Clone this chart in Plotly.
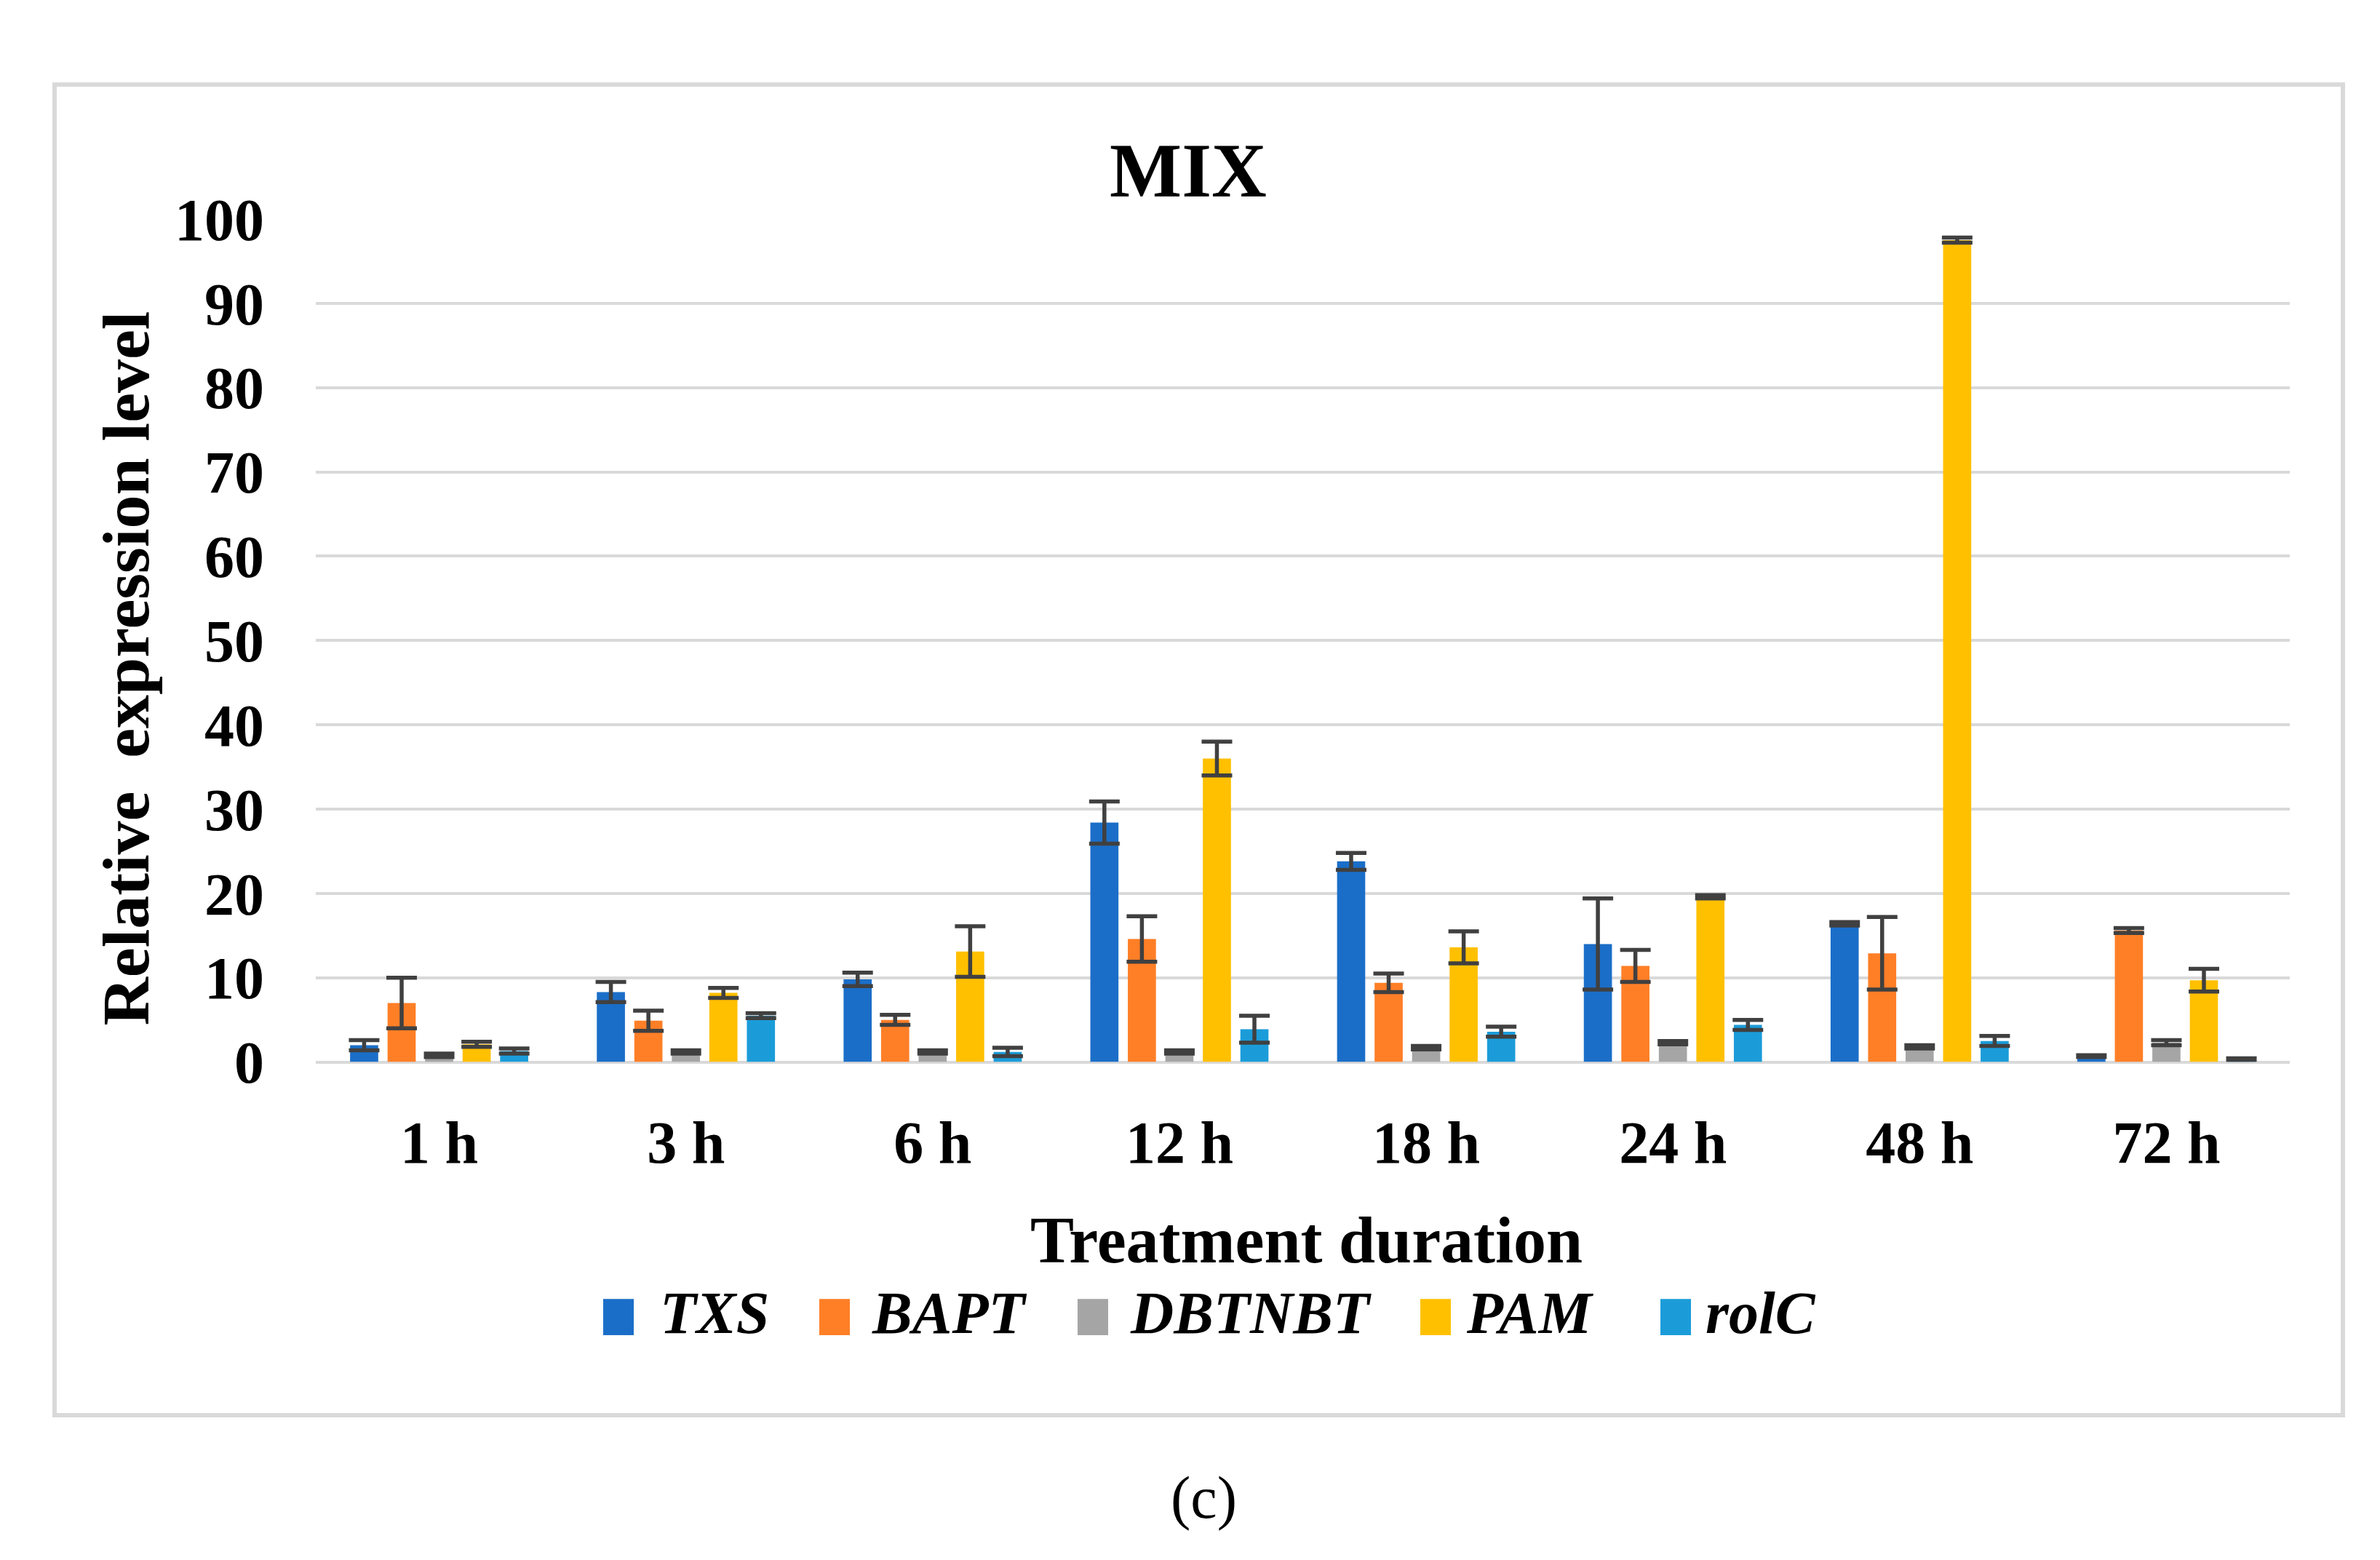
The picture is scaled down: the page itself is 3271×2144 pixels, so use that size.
import plotly.graph_objects as go

W, H = 3271, 2144

categories = ["1 h", "3 h", "6 h", "12 h", "18 h", "24 h", "48 h", "72 h"]
series_names = ["TXS", "BAPT", "DBTNBT", "PAM", "rolC"]
series_colors = ["#1B6EC8", "#FF7F27", "#A5A5A5", "#FFC000", "#1B9CD9"]

txs = [2.0, 8.3, 9.8, 28.4, 23.8, 14.0, 16.4, 0.7]
txs_err = [0.6, 1.2, 0.8, 2.5, 1.0, 5.4, 0.2, 0.1]
bapt = [7.0, 4.9, 5.0, 14.6, 9.4, 11.4, 12.9, 15.6]
bapt_err = [3.0, 1.2, 0.6, 2.7, 1.1, 1.9, 4.3, 0.3]
dbtnbt = [0.8, 1.2, 1.2, 1.2, 1.7, 2.3, 1.8, 2.3]
dbtnbt_err = [0.2, 0.2, 0.2, 0.2, 0.2, 0.2, 0.2, 0.3]
pam = [2.1, 8.2, 13.1, 36.0, 13.6, 19.6, 97.5, 9.7]
pam_err = [0.3, 0.6, 3.0, 2.0, 1.9, 0.2, 0.3, 1.35]
rolc = [1.3, 5.5, 1.2, 3.9, 3.6, 4.4, 2.5, 0.35]
rolc_err = [0.3, 0.3, 0.5, 1.6, 0.6, 0.6, 0.6, 0.1]

values = [txs, bapt, dbtnbt, pam, rolc]
errors = [txs_err, bapt_err, dbtnbt_err, pam_err, rolc_err]

y_ticks = [0, 10, 20, 30, 40, 50, 60, 70, 80, 90, 100]

FONT = "Liberation Serif"

def px(x):
    return x / W

def py(y):
    return (H - y) / H

fig = go.Figure()
for name, color, vals, errs in zip(series_names, series_colors, values, errors):
    fig.add_trace(go.Bar(
        name=name, x=categories, y=vals,
        marker=dict(color=color, line=dict(width=0)),
        error_y=dict(type="data", array=errs, visible=True,
                     color="#404040", thickness=5.5, width=21),
        showlegend=False,
    ))

shapes = [
    dict(type="rect", xref="paper", yref="paper",
         x0=px(67), x1=px(3212), y0=py(1977), y1=py(67),
         line=dict(color="#D9D9D9", width=6), fillcolor="rgba(0,0,0,0)", layer="below"),
]
annotations = []

# manual legend (boxes + italic labels)
box_x = [821, 1118, 1473, 1944, 2274]
text_x = [897, 1188, 1543, 2005, 2334]
for name, color, bx, tx in zip(series_names, series_colors, box_x, text_x):
    shapes.append(dict(type="rect", xref="paper", yref="paper",
                       x0=px(bx), x1=px(bx + 42), y0=py(1862), y1=py(1810),
                       line=dict(width=0), fillcolor=color))
    annotations.append(dict(text="<b><i>" + name + "</i></b>", xref="paper", yref="paper",
                            x=px(tx), y=py(1830), xanchor="left", yanchor="middle",
                            showarrow=False, font=dict(family=FONT, size=82, color="black")))

annotations += [
    dict(text="<b>Relative  expression level</b>", xref="paper", yref="paper",
         x=px(165), y=py(905), xanchor="center", yanchor="middle", textangle=-90,
         showarrow=False, font=dict(family=FONT, size=92, color="black")),
    dict(text="<b>Treatment duration</b>", xref="paper", yref="paper",
         x=px(1787), y=py(1726), xanchor="center", yanchor="middle",
         showarrow=False, font=dict(family=FONT, size=90, color="black")),
    dict(text="(c)", xref="paper", yref="paper",
         x=px(1646), y=py(2095), xanchor="center", yanchor="middle",
         showarrow=False, font=dict(family=FONT, size=82, color="black")),
]

tick_font = dict(family=FONT, size=82, color="black", weight="bold")

fig.update_layout(
    width=W, height=H,
    margin=dict(l=0, r=0, t=0, b=0),
    paper_bgcolor="white", plot_bgcolor="white",
    barmode="group", bargap=0.24, bargroupgap=0.25,
    title=dict(text="<b>MIX</b>", x=px(1625), y=py(189), xref="paper", yref="paper",
               xanchor="center", yanchor="middle",
               font=dict(family=FONT, size=105, color="black")),
    xaxis=dict(domain=[px(426), px(3139)], showgrid=False, showline=False, zeroline=False,
               ticks="", tickfont=tick_font, ticklabelstandoff=55),
    yaxis=dict(domain=[py(1470), py(260)], range=[0, 100], tickvals=y_ticks,
               showgrid=True, gridcolor="#D9D9D9", gridwidth=4,
               zeroline=True, zerolinecolor="#D9D9D9", zerolinewidth=4,
               showline=False, ticks="", tickfont=tick_font, ticklabelstandoff=70),
    shapes=shapes, annotations=annotations, showlegend=False,
)

fig.write_html("out.html")
